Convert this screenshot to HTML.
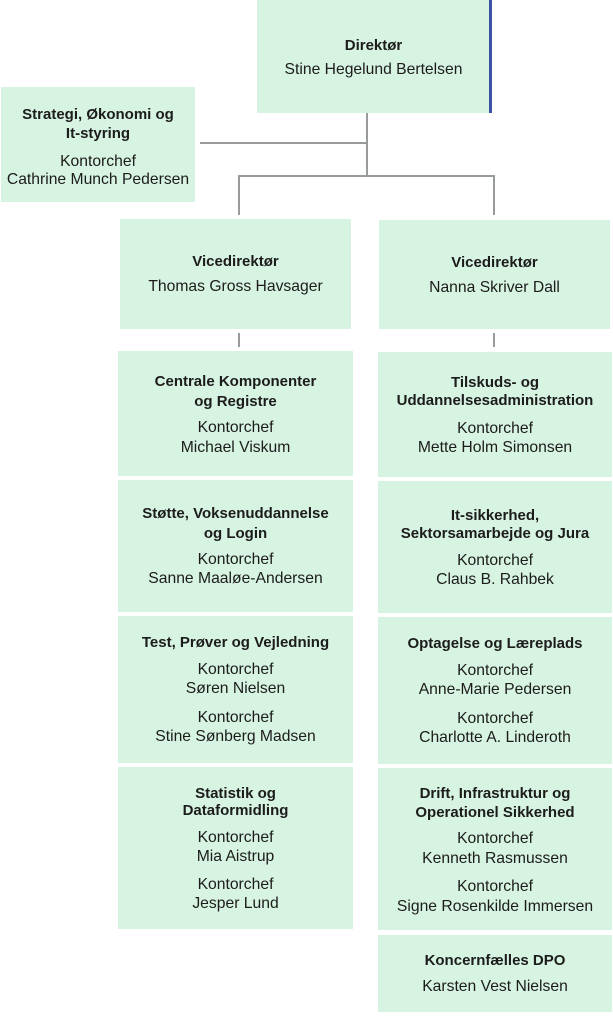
<!DOCTYPE html>
<html><head><meta charset="utf-8">
<style>
html,body{margin:0;padding:0;background:#fff;}
body{width:613px;height:1016px;position:relative;overflow:hidden;font-family:"Liberation Sans",Arial,sans-serif;color:#1c1c1c;}
.box{position:absolute;background:#d7f3e1;}
.ln{position:absolute;background:#979b99;}
.t{position:absolute;text-align:center;font-size:15.7px;line-height:20px;white-space:nowrap;}
.b{font-weight:bold;font-size:15px;}
</style></head><body>

<!-- connectors -->
<div class="ln" style="left:366px;top:113px;width:2px;height:64px"></div>
<div class="ln" style="left:200px;top:142px;width:168px;height:2px"></div>
<div class="ln" style="left:238px;top:175px;width:257px;height:2px"></div>
<div class="ln" style="left:238px;top:175px;width:2px;height:40px"></div>
<div class="ln" style="left:493px;top:175px;width:2px;height:40px"></div>
<div class="ln" style="left:238px;top:333px;width:2px;height:14px"></div>
<div class="ln" style="left:493px;top:333px;width:2px;height:14px"></div>

<!-- Director -->
<div class="box" style="left:257px;top:0;width:233px;height:113px"></div>
<div style="position:absolute;left:489px;top:0;width:3px;height:113px;background:#3a51a6"></div>
<div class="t b" style="left:257px;width:233px;top:36px">Direktør</div>
<div class="t" style="left:257px;width:233px;top:60px">Stine Hegelund Bertelsen</div>

<!-- Left staff -->
<div class="box" style="left:1px;top:87px;width:194px;height:115px"></div>
<div class="t b" style="left:1px;width:194px;top:105px">Strategi, Økonomi og</div>
<div class="t b" style="left:1px;width:194px;top:124px">It-styring</div>
<div class="t" style="left:1px;width:194px;top:152px">Kontorchef</div>
<div class="t" style="left:1px;width:194px;top:170px">Cathrine Munch Pedersen</div>

<!-- Vice left -->
<div class="box" style="left:120px;top:219px;width:231px;height:110px"></div>
<div class="t b" style="left:120px;width:231px;top:252px">Vicedirektør</div>
<div class="t" style="left:120px;width:231px;top:277px">Thomas Gross Havsager</div>

<!-- Vice right -->
<div class="box" style="left:379px;top:220px;width:231px;height:109px"></div>
<div class="t b" style="left:379px;width:231px;top:253px">Vicedirektør</div>
<div class="t" style="left:379px;width:231px;top:278px">Nanna Skriver Dall</div>

<!-- Left column -->
<div class="box" style="left:118px;top:351px;width:235px;height:125px"></div>
<div class="t b" style="left:118px;width:235px;top:372px">Centrale Komponenter</div>
<div class="t b" style="left:118px;width:235px;top:392px">og Registre</div>
<div class="t" style="left:118px;width:235px;top:418px">Kontorchef</div>
<div class="t" style="left:118px;width:235px;top:438px">Michael Viskum</div>

<div class="box" style="left:118px;top:480px;width:235px;height:132px"></div>
<div class="t b" style="left:118px;width:235px;top:504px">Støtte, Voksenuddannelse</div>
<div class="t b" style="left:118px;width:235px;top:524px">og Login</div>
<div class="t" style="left:118px;width:235px;top:550px">Kontorchef</div>
<div class="t" style="left:118px;width:235px;top:569px">Sanne Maaløe-Andersen</div>

<div class="box" style="left:118px;top:616px;width:235px;height:147px"></div>
<div class="t b" style="left:118px;width:235px;top:633px">Test, Prøver og Vejledning</div>
<div class="t" style="left:118px;width:235px;top:660px">Kontorchef</div>
<div class="t" style="left:118px;width:235px;top:679px">Søren Nielsen</div>
<div class="t" style="left:118px;width:235px;top:708px">Kontorchef</div>
<div class="t" style="left:118px;width:235px;top:727px">Stine Sønberg Madsen</div>

<div class="box" style="left:118px;top:767px;width:235px;height:162px"></div>
<div class="t b" style="left:118px;width:235px;top:784px">Statistik og</div>
<div class="t b" style="left:118px;width:235px;top:801px">Dataformidling</div>
<div class="t" style="left:118px;width:235px;top:828px">Kontorchef</div>
<div class="t" style="left:118px;width:235px;top:847px">Mia Aistrup</div>
<div class="t" style="left:118px;width:235px;top:875px">Kontorchef</div>
<div class="t" style="left:118px;width:235px;top:894px">Jesper Lund</div>

<!-- Right column -->
<div class="box" style="left:378px;top:352px;width:234px;height:125px"></div>
<div class="t b" style="left:378px;width:234px;top:373px">Tilskuds- og</div>
<div class="t b" style="left:378px;width:234px;top:391px">Uddannelsesadministration</div>
<div class="t" style="left:378px;width:234px;top:419px">Kontorchef</div>
<div class="t" style="left:378px;width:234px;top:438px">Mette Holm Simonsen</div>

<div class="box" style="left:378px;top:481px;width:234px;height:132px"></div>
<div class="t b" style="left:378px;width:234px;top:506px">It-sikkerhed,</div>
<div class="t b" style="left:378px;width:234px;top:524px">Sektorsamarbejde og Jura</div>
<div class="t" style="left:378px;width:234px;top:551px">Kontorchef</div>
<div class="t" style="left:378px;width:234px;top:570px">Claus B. Rahbek</div>

<div class="box" style="left:378px;top:617px;width:234px;height:147px"></div>
<div class="t b" style="left:378px;width:234px;top:634px">Optagelse og Læreplads</div>
<div class="t" style="left:378px;width:234px;top:661px">Kontorchef</div>
<div class="t" style="left:378px;width:234px;top:680px">Anne-Marie Pedersen</div>
<div class="t" style="left:378px;width:234px;top:709px">Kontorchef</div>
<div class="t" style="left:378px;width:234px;top:728px">Charlotte A. Linderoth</div>

<div class="box" style="left:378px;top:768px;width:234px;height:162px"></div>
<div class="t b" style="left:378px;width:234px;top:784px">Drift, Infrastruktur og</div>
<div class="t b" style="left:378px;width:234px;top:803px">Operationel Sikkerhed</div>
<div class="t" style="left:378px;width:234px;top:829px">Kontorchef</div>
<div class="t" style="left:378px;width:234px;top:849px">Kenneth Rasmussen</div>
<div class="t" style="left:378px;width:234px;top:877px">Kontorchef</div>
<div class="t" style="left:378px;width:234px;top:897px">Signe Rosenkilde Immersen</div>

<div class="box" style="left:378px;top:935px;width:234px;height:77px"></div>
<div class="t b" style="left:378px;width:234px;top:951px">Koncernfælles DPO</div>
<div class="t" style="left:378px;width:234px;top:977px">Karsten Vest Nielsen</div>

</body></html>
